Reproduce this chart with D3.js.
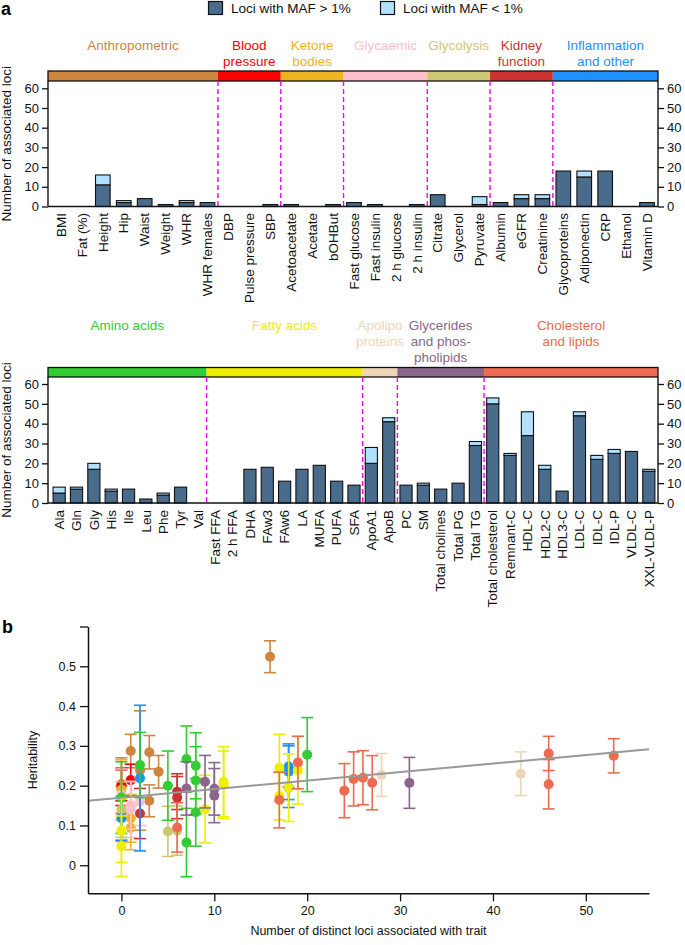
<!DOCTYPE html>
<html><head><meta charset="utf-8">
<script src="https://cdn.jsdelivr.net/npm/d3@7"></script>
<style>
body{margin:0;background:#fff}
text{font-family:"Liberation Sans",Arial,Helvetica,sans-serif}
</style>
</head><body>
<svg id="c" width="685" height="945"></svg>
<script>
// ---------------- DATA ----------------
const traits1 = ["BMI","Fat (%)","Height","Hip","Waist","Weight","WHR","WHR females",
  "DBP","Pulse pressure","SBP","Acetoacetate","Acetate","bOHBut",
  "Fast glucose","Fast insulin","2 h glucose","2 h insulin","Citrate","Glycerol","Pyruvate",
  "Albumin","eGFR","Creatinine","Glycoproteins","Adiponectin","CRP","Ethanol","Vitamin D"];
const common1 = [0,0,11,2,4,1,2,2, 0,0,1, 1,0,1, 2,1,0,1, 6,0,1, 2,4,4, 18,15,18,0,2];
const rare1   = [0,0,5,1,0,0,1,0, 0,0,0, 0,0,0, 0,0,0,0, 0,0,4, 0,2,2, 0,3,0,0,0];
const groupLines1 = [["Anthropometric"],["Blood","pressure"],["Ketone","bodies"],["Glycaemic"],
  ["Glycolysis"],["Kidney","function"],["Inflammation","and other"]];
const groupSizes1 = [8,3,3,4,3,3,5];
const groupColors1 = ["#cd853f","#ff0000","#eeb422","#ffc0cb","#cdc673","#cd3333","#1e90ff"];
const herit1 = [0.20,0.13,0.524,0.284,0.235,0.287,0.162,0.238, 0.203,0.195,0.214, 0.118,0.19,0.094,
  0.16,0.151,0.177,0.14, 0.087,0.14,0.085, 0.13,0.185,0.17, 0.248,0.235,0.195,0.118,0.219];
const herr1  = [0.07,0.07,0.04,0.042,0.041,0.042,0.04,0.15, 0.041,0.045,0.04, 0.06,0.075,0.055,
  0.06,0.06,0.065,0.07, 0.062,0.07,0.063, 0.063,0.045,0.053, 0.052,0.07,0.05,0.055,0.183];

const traits2 = ["Ala","Gln","Gly","His","Ile","Leu","Phe","Tyr","Val",
  "Fast FFA","2 h FFA","DHA","FAw3","FAw6","LA","MUFA","PUFA","SFA",
  "ApoA1","ApoB","PC","SM","Total cholines","Total PG","Total TG",
  "Total cholesterol","Remnant-C","HDL-C","HDL2-C","HDL3-C","LDL-C","IDL-C","IDL-P","VLDL-C","XXL-VLDL-P"];
const common2 = [5,7,17,6,7,2,4,8,0, 0,0,17,18,11,17,19,11,9, 20,41, 9,9,7,10,29, 50,24,34,17,6,44,22,25,26,16];
const rare2   = [3,1,3,1,0,0,1,0,0, 0,0,0,0,0,0,0,0,0, 8,2, 0,1,0,0,2, 3,1,12,2,0,2,2,2,0,1];
const groupLines2 = [["Amino acids"],["Fatty acids"],["Apolipo","proteins"],
  ["Glycerides","and phos-","pholipids"],["Cholesterol","and lipids"]];
const groupSizes2 = [9,9,2,5,10];
const groupColors2 = ["#32cd32","#eeee00","#eed5b7","#8b668b","#ee6a50"];
const herit2 = [0.25,0.213,0.278,0.267,0.057,0.252,0.2,0.133,0.17,
  0.048,0.087,0.245,0.195,0.21,0.174,0.239,0.202,0.141,
  0.227,0.23, 0.21,0.192,0.193,0.175,0.207,
  0.275,0.217,0.281,0.258,0.095,0.2035,0.1875,0.2075,0.22,0.164];
const herr2  = [0.083,0.085,0.093,0.083,0.086,0.082,0.087,0.085,0.09,
  0.076,0.08,0.084,0.085,0.088,0.06,0.085,0.085,0.085,
  0.054,0.055, 0.066,0.066,0.067,0.068,0.064,
  0.043,0.068,0.043,0.066,0.062,0.062,0.068,0.068,0.068,0.07];

const barTicks = [0,10,20,30,40,50,60];
const heritTicks = [0,0.1,0.2,0.3,0.4,0.5,0.6];
const lociTicks = [0,10,20,30,40,50];
const fitIntercept = 0.170, fitSlope = 0.00214;
const legendLabels = ["Loci with MAF > 1%","Loci with MAF < 1%"];

// ---------------- STYLE ----------------
const DARK = "#4a6c8c", LIGHT = "#b0e2ff";
const svg = d3.select("#c");

// panel letters
svg.append("text").attr("x",1).attr("y",15).attr("font-size",18).attr("font-weight","bold").text("a");
svg.append("text").attr("x",2).attr("y",633).attr("font-size",18).attr("font-weight","bold").text("b");

// legend
[[208.5,DARK,231],[380.5,LIGHT,403]].forEach((l,i)=>{
  svg.append("rect").attr("x",l[0]).attr("y",1.5).attr("width",14).attr("height",13)
    .attr("fill",l[1]).attr("stroke","#111").attr("stroke-width",1.2);
  svg.append("text").attr("x",l[2]).attr("y",13).attr("font-size",13.5).attr("fill","#111").text(legendLabels[i]);
});

function barPanel(cfg){
  const g = svg.append("g");
  const x = d3.scaleBand().domain(cfg.traits).range([50.5,657.5]).paddingInner(0.3).paddingOuter(0.15);
  const y = d3.scaleLinear().domain([0,60]).range([cfg.y0, cfg.y60]);
  const step = x.step();
  // boundaries
  let cum = 0; const bounds = [48];
  cfg.sizes.forEach((s,i)=>{ cum += s; bounds.push(i===cfg.sizes.length-1 ? 658 : 50.5 + cum*step); });
  // category labels
  cfg.lines.forEach((ls,i)=>{
    const cx = (bounds[i]+bounds[i+1])/2;
    ls.forEach((t,j)=>{
      g.append("text").attr("x",cx).attr("y",cfg.labelBase + j*16).attr("text-anchor","middle")
        .attr("font-size",13.5).attr("fill",cfg.colors[i]).text(t);
    });
  });
  // category bar
  cfg.sizes.forEach((s,i)=>{
    g.append("rect").attr("x",bounds[i]).attr("y",cfg.catY).attr("width",bounds[i+1]-bounds[i])
      .attr("height",cfg.catH).attr("fill",cfg.colors[i]);
  });
  g.append("rect").attr("x",48).attr("y",cfg.catY).attr("width",610).attr("height",cfg.catH)
    .attr("fill","none").attr("stroke","#111").attr("stroke-width",1.3);
  // dashed separators
  bounds.slice(1,-1).forEach(b=>{
    g.append("line").attr("x1",b).attr("x2",b).attr("y1",cfg.catY+cfg.catH).attr("y2",cfg.y0)
      .attr("stroke","#ff00ff").attr("stroke-width",1.4).attr("stroke-dasharray","5,3");
  });
  // bars
  cfg.traits.forEach((t,i)=>{
    const c = cfg.common[i], r = cfg.rare[i];
    if(c>0) g.append("rect").attr("x",x(t)).attr("width",x.bandwidth()).attr("y",y(c)).attr("height",y(0)-y(c))
      .attr("fill",DARK).attr("stroke","#111").attr("stroke-width",1.1);
    if(r>0) g.append("rect").attr("x",x(t)).attr("width",x.bandwidth()).attr("y",y(c+r)).attr("height",y(c)-y(c+r))
      .attr("fill",LIGHT).attr("stroke","#111").attr("stroke-width",1.1);
  });
  // axes
  const yl = g.append("g").attr("transform","translate(48,0)")
    .call(d3.axisLeft(y).tickValues(barTicks).tickSize(6).tickPadding(3));
  const yr = g.append("g").attr("transform","translate(658,0)")
    .call(d3.axisRight(y).tickValues(barTicks).tickSize(6).tickPadding(3));
  [yl,yr].forEach(a=>{
    a.select(".domain").remove();
    a.selectAll("line").attr("stroke","#111").attr("stroke-width",1.3);
    a.selectAll("text").attr("font-size",13).attr("fill","#111").attr("font-family",'"Liberation Sans",Arial,sans-serif');
  });
  [48,658].forEach(xx=>g.append("line").attr("x1",xx).attr("x2",xx).attr("y1",cfg.catY+cfg.catH).attr("y2",cfg.y0)
    .attr("stroke","#111").attr("stroke-width",1.4));
  g.append("line").attr("x1",48).attr("x2",658).attr("y1",cfg.y0).attr("y2",cfg.y0).attr("stroke","#111").attr("stroke-width",1.4);
  // x labels
  cfg.traits.forEach(t=>{
    g.append("text").attr("transform",`translate(${x(t)+x.bandwidth()/2},${cfg.labelTop}) rotate(-90)`)
      .attr("dy","0.35em").attr("text-anchor","end").attr("font-size",13.5).attr("fill","#111").text(t);
  });
  // y title
  g.append("text").attr("transform",`translate(11,${(cfg.catY+cfg.catH+cfg.y0)/2}) rotate(-90)`)
    .attr("text-anchor","middle").attr("font-size",13.5).attr("fill","#111").text("Number of associated loci");
}

barPanel({traits:traits1, common:common1, rare:rare1, lines:groupLines1, sizes:groupSizes1, colors:groupColors1,
  catY:71, catH:10, y0:206.5, y60:88.3, labelBase:49.5, labelTop:213});
barPanel({traits:traits2, common:common2, rare:rare2, lines:groupLines2, sizes:groupSizes2, colors:groupColors2,
  catY:367.5, catH:9.5, y0:503, y60:384, labelBase:329.5, labelTop:510});

// ---------------- PANEL b ----------------
const gb = svg.append("g");
const xs = d3.scaleLinear().domain([-3.6,56.8]).range([88,649]);
const ys = d3.scaleLinear().domain([-0.0705,0.6]).range([893.3,626.5]);

const pts = [];
traits1.forEach((t,i)=>{
  let gi=0, c=0; while(c+groupSizes1[gi]<=i){c+=groupSizes1[gi];gi++;}
  pts.push({n:common1[i]+rare1[i], h:herit1[i], e:herr1[i], col:groupColors1[gi]});
});
traits2.forEach((t,i)=>{
  let gi=0, c=0; while(c+groupSizes2[gi]<=i){c+=groupSizes2[gi];gi++;}
  pts.push({n:common2[i]+rare2[i], h:herit2[i], e:herr2[i], col:groupColors2[gi]});
});
pts.forEach(p=>{
  const cx = xs(p.n);
  const e = gb.append("g").attr("stroke",p.col).attr("stroke-width",1.6);
  e.append("line").attr("x1",cx).attr("x2",cx).attr("y1",ys(p.h+p.e)).attr("y2",ys(p.h-p.e));
  e.append("line").attr("x1",cx-6).attr("x2",cx+6).attr("y1",ys(p.h+p.e)).attr("y2",ys(p.h+p.e));
  e.append("line").attr("x1",cx-6).attr("x2",cx+6).attr("y1",ys(p.h-p.e)).attr("y2",ys(p.h-p.e));
  gb.append("circle").attr("cx",cx).attr("cy",ys(p.h)).attr("r",5).attr("fill",p.col);
});
// fit line
gb.append("line").attr("x1",xs(-3.6)).attr("x2",xs(56.8))
  .attr("y1",ys(fitIntercept+fitSlope*-3.6)).attr("y2",ys(fitIntercept+fitSlope*56.8))
  .attr("stroke","#999").attr("stroke-width",2);

const ax = gb.append("g").attr("transform","translate(0,893.3)")
  .call(d3.axisBottom(xs).tickValues(lociTicks).tickSize(8).tickPadding(5).tickSizeOuter(0));
const ay = gb.append("g").attr("transform","translate(88,0)")
  .call(d3.axisLeft(ys).tickValues(heritTicks).tickSize(8).tickPadding(4).tickSizeOuter(0)
    .tickFormat(d=>d>=0.55?"":(d===0?"0":d3.format(".1f")(d))));
[ax,ay].forEach(a=>{
  a.select(".domain").attr("stroke","#111").attr("stroke-width",1.5);
  a.selectAll("line").attr("stroke","#111").attr("stroke-width",1.3);
  a.selectAll("text").attr("font-size",12.5).attr("fill","#111").attr("font-family",'"Liberation Sans",Arial,sans-serif');
});
gb.append("text").attr("x",368.5).attr("y",935).attr("text-anchor","middle").attr("font-size",12.5)
  .attr("fill","#111").text("Number of distinct loci associated with trait");
gb.append("text").attr("transform","translate(37,760) rotate(-90)").attr("text-anchor","middle")
  .attr("font-size",12.5).attr("fill","#111").text("Heritability");
</script>
</body></html>
